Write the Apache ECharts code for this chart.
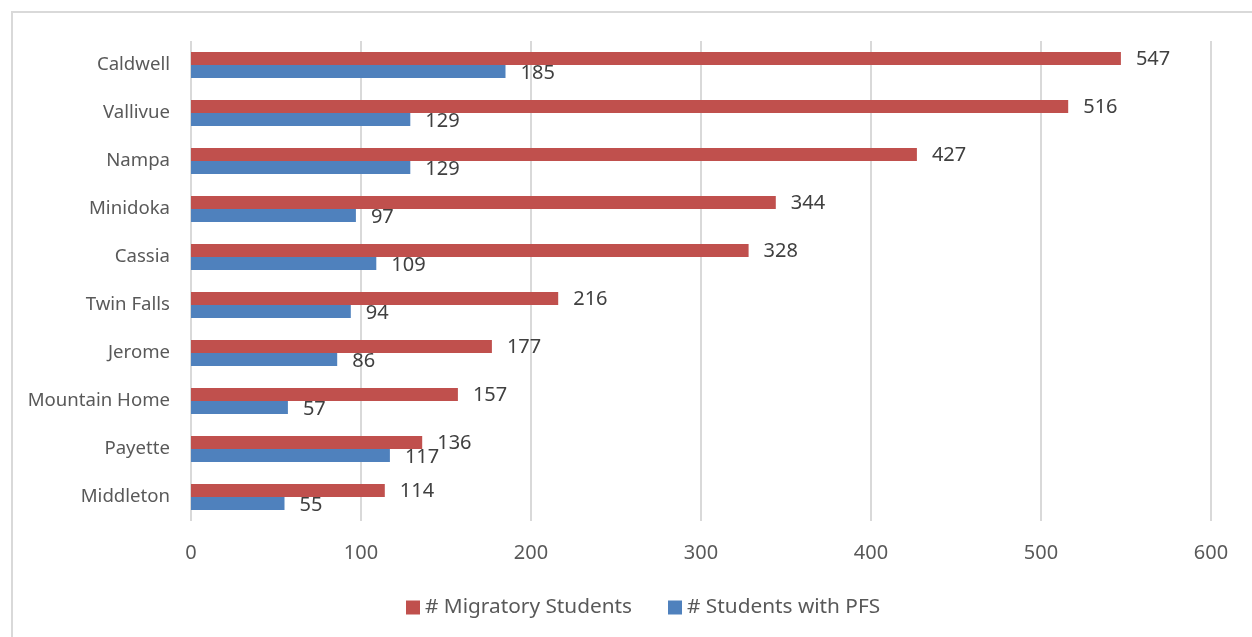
<!DOCTYPE html>
<html>
<head>
<meta charset="utf-8">
<script src="https://cdn.jsdelivr.net/npm/echarts@6/dist/echarts.min.js"></script>
<style>
html,body{margin:0;padding:0;background:#fff;overflow:hidden;}
#frame{position:absolute;left:11px;top:11px;width:1400px;height:800px;border-left:2px solid #d9d9d9;border-top:2px solid #d9d9d9;}
#chart{position:absolute;left:0;top:0;width:1252px;height:637px;}
</style>
</head>
<body>
<div id="frame"></div>
<div id="chart"></div>
<script>
const categories = ["Caldwell","Vallivue","Nampa","Minidoka","Cassia","Twin Falls","Jerome","Mountain Home","Payette","Middleton"];
const migratoryStudents = [547,516,427,344,328,216,177,157,136,114];
const studentsWithPFS = [185,129,129,97,109,94,86,57,117,55];
const xTicks = [0,100,200,300,400,500,600];

const chart = echarts.init(document.getElementById('chart'));
const font = "'Noto Sans', sans-serif";
chart.setOption({
  animation:false,
  backgroundColor:'transparent',
  grid:{left:191,right:41,top:41,height:480,containLabel:false},
  legend:{
    bottom:14,left:401,
    itemWidth:14,itemHeight:14,itemGap:36,
    icon:'rect',
    textStyle:{fontFamily:font,fontSize:20.8,color:'#595959',padding:[0,0,0,0]},
    data:['# Migratory Students','# Students with PFS']
  },
  xAxis:{
    type:'value',min:xTicks[0],max:xTicks[xTicks.length-1],interval:100,
    axisLine:{show:false},axisTick:{show:false},
    splitLine:{show:true,lineStyle:{color:'#d9d9d9',width:2}},
    axisLabel:{fontFamily:font,fontSize:20,color:'#595959',margin:22}
  },
  yAxis:{
    type:'category',data:categories,inverse:true,
    axisLine:{show:false},axisTick:{show:false},
    axisLabel:{fontFamily:font,fontSize:18.6,color:'#595959',margin:21}
  },
  series:[
    {name:'# Migratory Students',type:'bar',data:migratoryStudents,barWidth:13,barGap:'0%',
     itemStyle:{color:'#C0504D'},
     label:{show:true,position:'right',distance:15,offset:[0,1],fontFamily:font,fontSize:20,color:'#404040'}},
    {name:'# Students with PFS',type:'bar',data:studentsWithPFS,barWidth:13,barGap:'0%',
     itemStyle:{color:'#4F81BD'},
     label:{show:true,position:'right',distance:15,offset:[0,2],fontFamily:font,fontSize:20,color:'#404040'}}
  ]
});
</script>
</body>
</html>
